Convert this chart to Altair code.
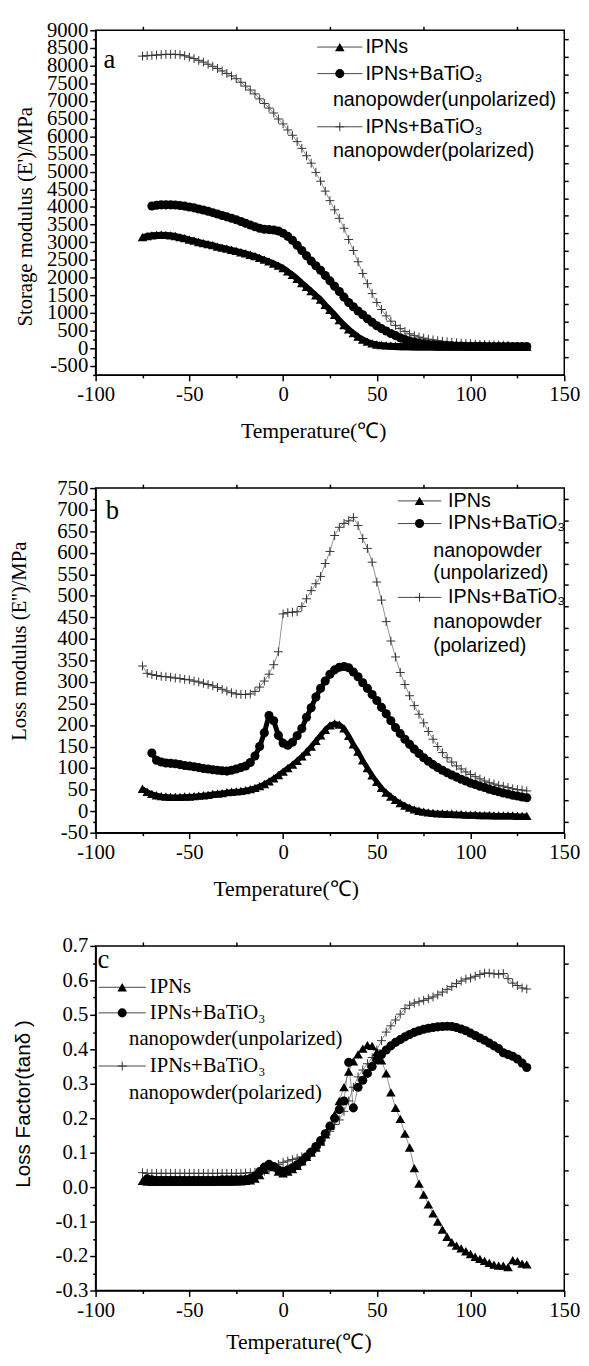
import altair as alt
import pandas as pd

# ---------------- data ----------------
T = [-75, -72.5, -70, -67.5, -65, -62.5, -60, -57.5, -55, -52.5,
     -50, -47.5, -45, -42.5, -40, -37.5, -35, -32.5, -30, -27.5,
     -25, -22.5, -20, -17.5, -15, -12.5, -10, -7.5, -5, -2.5,
     0, 2.5, 5, 7.5, 10, 12.5, 15, 17.5, 20, 22.5,
     25, 27.5, 30, 32.5, 35, 37.5, 40, 42.5, 45, 47.5,
     50, 52.5, 55, 57.5, 60, 62.5, 65, 67.5, 70, 72.5,
     75, 77.5, 80, 82.5, 85, 87.5, 90, 92.5, 95, 97.5,
     100, 102.5, 105, 107.5, 110, 112.5, 115, 117.5, 120, 122.5,
     125, 127.5, 130]

# panel a: storage modulus (MPa)
A_IPN = [3150, 3180, 3200, 3210, 3215, 3210, 3200, 3180, 3150, 3120,
         3080, 3050, 3010, 2980, 2950, 2920, 2880, 2850, 2820, 2790,
         2760, 2720, 2690, 2650, 2610, 2560, 2510, 2460, 2400, 2340,
         2270, 2180, 2080, 1970, 1850, 1740, 1620, 1500, 1380, 1230,
         1090, 950, 800, 660, 540, 430, 330, 250, 190, 140,
         110, 95, 85, 78, 72, 68, 65, 62, 60, 58,
         57, 56, 55, 54, 53, 52, 52, 51, 51, 50,
         50, 49, 49, 48, 48, 47, 47, 46, 46, 45,
         45, 44, 44]
A_UNP = [None, None, 4030, 4050, 4060, 4060, 4060, 4055, 4045, 4025,
         4000, 3975, 3945, 3915, 3880, 3840, 3800, 3760, 3720, 3680,
         3640, 3590, 3540, 3490, 3440, 3400, 3370, 3360, 3350, 3320,
         3260, 3170, 3060, 2920, 2770, 2620, 2470, 2340, 2210, 2060,
         1910, 1760, 1610, 1450, 1300, 1180, 1060, 950, 840, 740,
         640, 560, 490, 420, 360, 300, 250, 210, 180, 150,
         130, 112, 100, 90, 82, 76, 72, 68, 65, 62,
         60, 58, 57, 56, 55, 54, 54, 53, 53, 52,
         52, 51, 51]
A_POL = [8270, 8280, 8290, 8300, 8310, 8320, 8320, 8320, 8310, 8280,
         8240, 8200, 8150, 8100, 8040, 7980, 7920, 7850, 7780, 7710,
         7630, 7530, 7420, 7310, 7200, 7060, 6930, 6800, 6660, 6490,
         6350, 6180, 6030, 5850, 5660, 5450, 5240, 4980, 4730, 4450,
         4180, 3920, 3680, 3400, 3080, 2770, 2450, 2120, 1830, 1550,
         1300, 1100, 920, 770, 650, 560, 480, 410, 360, 320,
         290, 260, 240, 220, 200, 185, 170, 160, 150, 140,
         130, 122, 115, 110, 105, 100, 95, 92, 90, None,
         None, None, None]

# panel b: loss modulus (MPa)
B_IPN = [52, 45, 40, 37, 35, 34, 33, 33, 33, 34,
         34, 35, 36, 37, 38, 40, 41, 42, 44, 45,
         46, 47, 49, 51, 54, 58, 63, 69, 76, 84,
         92, 100, 108, 117, 127, 138, 150, 163, 176, 189,
         199, 204, 201, 192, 175, 155, 138, 118, 100, 83,
         68, 54, 43, 34, 26, 19, 13, 8, 4, 1,
         -1, -3, -4, -5, -5, -6, -6, -7, -7, -8,
         -8, -8, -9, -9, -9, -10, -10, -10, -10, -10,
         -11, -11, -11]
B_UNP = [None, None, 135, 118, 114, 112, 111, 110, 108, 106,
         105, 103, 101, 99, 98, 96, 95, 94, 93, 95,
         98, 101, 105, 113, 128, 150, 182, 222, 210, 176,
         158, 153, 160, 175, 192, 218, 240, 265, 285, 302,
         318, 328, 334, 336, 333, 323, 312, 298, 285, 271,
         257, 241, 226, 210, 194, 180, 167, 155, 144, 134,
         124, 116, 108, 101, 95, 89, 84, 79, 74, 70,
         65, 62, 58, 55, 51, 48, 45, 42, 40, 37,
         35, 33, 31]
B_POL = [337, 320, 317, 315, 313, 312, 311, 309, 308, 306,
         305, 302, 300, 297, 294, 291, 287, 283, 279, 275,
         272, 271, 271, 272, 278, 288, 302, 318, 340, 370,
         458, 461, 462, 463, 475, 493, 512, 528, 545, 575,
         603, 640, 659, 668, 674, 682, 663, 633, 610, 578,
         532, 490, 440, 395, 358, 322, 294, 268, 245, 225,
         205, 185, 167, 150, 136, 124, 114, 105, 98, 91,
         85, 80, 75, 70, 66, 63, 60, 58, 55, 52,
         50, 49, 47]

# panel c: loss factor (tan delta)
C_IPN = [0.018, 0.016, 0.015, 0.015, 0.015, 0.015, 0.015, 0.015, 0.015, 0.015,
         0.015, 0.015, 0.015, 0.015, 0.015, 0.015, 0.016, 0.016, 0.016, 0.016,
         0.017, 0.017, 0.018, 0.02, 0.025, 0.035, 0.05, 0.062, 0.058, 0.045,
         0.04, 0.045, 0.052, 0.062, 0.075, 0.088, 0.1, 0.115, 0.132, 0.153,
         0.178, 0.21, 0.25, 0.29, 0.335, 0.365, 0.385, 0.402, 0.412, 0.41,
         0.392, 0.368, 0.33, 0.275, 0.23, 0.198, 0.155, 0.115, 0.055, 0.01,
         -0.022, -0.05, -0.076, -0.1, -0.123, -0.144, -0.16, -0.17, -0.178, -0.186,
         -0.194, -0.202, -0.208, -0.214, -0.22, -0.225, -0.228, -0.228, -0.232, -0.212,
         -0.215, -0.222, -0.224]
C_UNP = [None, 0.024, 0.021, 0.02, 0.02, 0.02, 0.02, 0.02, 0.02, 0.02,
         0.02, 0.02, 0.02, 0.02, 0.02, 0.02, 0.02, 0.021, 0.021, 0.021,
         0.021, 0.021, 0.022, 0.025, 0.032, 0.045, 0.058, 0.066, 0.06, 0.05,
         0.046, 0.05, 0.056, 0.065, 0.075, 0.088, 0.102, 0.118, 0.135, 0.155,
         0.177, 0.2, 0.225, 0.25, 0.362, 0.23, 0.29, 0.31, 0.33, 0.35,
         0.37, 0.385, 0.398, 0.41, 0.42, 0.428, 0.436, 0.443, 0.449, 0.454,
         0.458, 0.461, 0.463, 0.465, 0.466, 0.467, 0.466, 0.463, 0.459, 0.454,
         0.447, 0.44, 0.433, 0.426, 0.418, 0.41, 0.402, 0.39, 0.385, 0.38,
         0.372, 0.36, 0.347]
C_POL = [0.042, 0.04, 0.04, 0.04, 0.04, 0.04, 0.04, 0.04, 0.04, 0.04,
         0.04, 0.04, 0.04, 0.04, 0.04, 0.04, 0.04, 0.04, 0.04, 0.04,
         0.04, 0.04, 0.041, 0.042, 0.043, 0.044, 0.046, 0.05, 0.058, 0.066,
         0.072, 0.076, 0.08, 0.084, 0.088, 0.094, 0.102, 0.112, 0.126, 0.145,
         0.162, 0.182, 0.195, 0.22, 0.25, 0.29, 0.32, 0.34, 0.358, 0.376,
         0.398, 0.425, 0.45, 0.468, 0.485, 0.502, 0.518, 0.528, 0.534, 0.538,
         0.542, 0.547, 0.552, 0.558, 0.566, 0.574, 0.582, 0.591, 0.598, 0.604,
         0.607, 0.612, 0.617, 0.621, 0.621, 0.619, 0.618, 0.62, 0.605, 0.592,
         0.585, 0.578, 0.575]

# text
X_TITLE = "Temperature(\u2103)"
Y_TITLES = ["Storage modulus (E')/MPa", "Loss modulus (E'')/MPa", "Loss Factor(tan\u03b4 )"]
LETTERS = ["a", "b", "c"]
LEG_A = ["IPNs", "IPNs+BaTiO\u2083", "nanopowder(unpolarized)", "IPNs+BaTiO\u2083", "nanopowder(polarized)"]
LEG_B = ["IPNs", "IPNs+BaTiO\u2083", "nanopowder", "(unpolarized)", "IPNs+BaTiO\u2083", "nanopowder", "(polarized)"]
LEG_C = ["IPNs", "IPNs+BaTiO\u2083", "nanopowder(unpolarized)", "IPNs+BaTiO\u2083", "nanopowder(polarized)"]

X_VALUES = [-100, -75, -50, -25, 0, 25, 50, 75, 100, 125, 150]
X_TOP = [-75, -25, 25, 75, 125]
YA_VALUES = list(range(-750, 9001, 250))
YA_RIGHT = list(range(-250, 9000, 500))
YB_VALUES = list(range(-50, 751, 25))
YB_RIGHT = list(range(-25, 750, 50))
YC_VALUES = [-0.3, -0.25, -0.2, -0.15, -0.1, -0.05, 0.0, 0.05, 0.1, 0.15, 0.2,
             0.25, 0.3, 0.35, 0.4, 0.45, 0.5, 0.55, 0.6, 0.65, 0.7]
YC_RIGHT = [-0.25, -0.15, -0.05, 0.05, 0.15, 0.25, 0.35, 0.45, 0.55, 0.65]

# ---------------- styling ----------------
W, H = 476, 350
SERIF = "Liberation Serif"
SANS = "Liberation Sans"
MINUS = "\u2212"
CROSS = "M-1,0L1,0M0,-1L0,1"
MARK = {
    "ipn": dict(shape="triangle-up", filled=True, color="black", size=95, opacity=1),
    "unp": dict(shape="circle", filled=True, color="black", size=85, opacity=1),
    "pol": dict(shape=CROSS, filled=False, color="#333333", strokeWidth=1, size=81, opacity=1),
}
ONE = pd.DataFrame({"k": [0]})


def long_df(ipn, unp, pol):
    rows = []
    for name, vals in (("pol", pol), ("unp", unp), ("ipn", ipn)):
        for t, v in zip(T, vals):
            if v is not None:
                rows.append({"T": t, "v": v, "s": name})
    return pd.DataFrame(rows)


def txt(s, x, y, font, size, baseline="middle", align="left"):
    return alt.Chart(ONE).mark_text(
        text=s, font=font, fontSize=size, align=align, baseline=baseline, color="black"
    ).encode(x=alt.value(x), y=alt.value(y))


def sym(key, xc, y, half):
    rule = alt.Chart(ONE).mark_rule(color="#444444", strokeWidth=1).encode(
        x=alt.value(xc - half), x2=alt.value(xc + half), y=alt.value(y))
    pt = alt.Chart(ONE).mark_point(**MARK[key]).encode(x=alt.value(xc), y=alt.value(y))
    return [rule, pt]


def panel(df, ydom, yvals, ymajor, yright, yfmt, ytitle, ytfont, ytx, yty, xtx, xty,
          letter, lx, ly, legend_layers, band):
    xs = alt.Scale(domain=[-100, 150], nice=False, zero=False)
    ys = alt.Scale(domain=ydom, nice=False, zero=False)
    xmajor = "datum.value % 50 === 0"
    x_axis = alt.Axis(
        orient="bottom", values=X_VALUES, format="d",
        labelExpr=f"{xmajor} ? replace(datum.label, '{MINUS}', '-') : ''",
        tickSize={"condition": {"test": xmajor, "value": 6}, "value": 3},
        tickWidth=1.5, tickColor="black", domainColor="black", domainWidth=1.5,
        labelFont=SERIF, labelFontSize=21, labelColor="black", labelPadding=3,
        labelOverlap=False, labelFlush=False, grid=False,
        title=X_TITLE, titleFont=SERIF, titleFontSize=22, titleFontWeight="normal",
        titleColor="black", titleX=xtx, titleY=xty, titleBaseline="middle", titleAlign="center")
    y_axis = alt.Axis(
        orient="left", values=yvals, format=yfmt,
        labelExpr=f"{ymajor} ? replace(datum.label, '{MINUS}', '-') : ''",
        tickSize={"condition": {"test": ymajor, "value": 6}, "value": 3},
        tickWidth=1.5, tickColor="black", domainColor="black", domainWidth=1.5,
        labelFont=SERIF, labelFontSize=21, labelColor="black", labelPadding=2,
        labelOverlap=False, grid=False,
        title=ytitle, titleFont=ytfont, titleFontSize=21, titleFontWeight="normal",
        titleColor="black", titleX=ytx, titleY=yty, titleAngle=270,
        titleBaseline="middle", titleAlign="center")
    top_axis = alt.Axis(orient="top", values=X_TOP, labels=False, domain=False,
                        tickSize=4, tickWidth=1.5, tickColor="black", grid=False)
    right_axis = alt.Axis(orient="right", values=yright, labels=False, domain=False,
                          tickSize=4, tickWidth=1.5, tickColor="black", grid=False)

    base = alt.Chart(df)
    lines = base.mark_line(color="#777777", strokeWidth=0.8).encode(
        x=alt.X("T:Q", scale=xs, axis=x_axis),
        y=alt.Y("v:Q", scale=ys, axis=y_axis),
        detail="s:N")
    layers = [lines]
    if band > 0:
        layers.append(base.transform_filter(alt.datum.s != "pol").mark_line(
            color="black", strokeWidth=band).encode(
            x=alt.X("T:Q", scale=xs, axis=None),
            y=alt.Y("v:Q", scale=ys, axis=None),
            detail="s:N"))
    pol = base.transform_filter(alt.datum.s == "pol").mark_point(**MARK["pol"]).encode(
        x=alt.X("T:Q", scale=xs, axis=top_axis, title=None),
        y=alt.Y("v:Q", scale=ys, axis=right_axis, title=None))
    unp = base.transform_filter(alt.datum.s == "unp").mark_point(**MARK["unp"]).encode(
        x=alt.X("T:Q", scale=xs, axis=None),
        y=alt.Y("v:Q", scale=ys, axis=None))
    ipn = base.transform_filter(alt.datum.s == "ipn").mark_point(**MARK["ipn"]).encode(
        x=alt.X("T:Q", scale=xs, axis=None),
        y=alt.Y("v:Q", scale=ys, axis=None))
    let = txt(letter, lx, ly, SERIF, 27, baseline="alphabetic", align="center")
    layers += [pol, unp, ipn, let] + legend_layers
    return alt.layer(*layers).resolve_axis(x="independent", y="independent").properties(
        width=W, height=H)


# ---------------- legends ----------------
leg_a = []
leg_a += sym("ipn", 248, 17, 23)
leg_a.append(txt(LEG_A[0], 274, 17, SANS, 20))
leg_a += sym("unp", 248, 44, 23)
leg_a.append(txt(LEG_A[1], 274, 44, SANS, 20))
leg_a.append(txt(LEG_A[2], 241, 71, SANS, 20))
leg_a += sym("pol", 248, 98, 23)
leg_a.append(txt(LEG_A[3], 274, 98, SANS, 20))
leg_a.append(txt(LEG_A[4], 241, 123, SANS, 20))

leg_b = []
leg_b += sym("ipn", 329, 13, 22)
leg_b.append(txt(LEG_B[0], 358, 13, SANS, 20))
leg_b += sym("unp", 329, 36, 22)
leg_b.append(txt(LEG_B[1], 358, 36, SANS, 20))
leg_b.append(txt(LEG_B[2], 343, 64, SANS, 20))
leg_b.append(txt(LEG_B[3], 343, 86, SANS, 20))
leg_b += sym("pol", 329, 111, 22)
leg_b.append(txt(LEG_B[4], 358, 111, SANS, 20))
leg_b.append(txt(LEG_B[5], 343, 136, SANS, 20))
leg_b.append(txt(LEG_B[6], 343, 160, SANS, 20))

leg_c = []
leg_c += sym("ipn", 27, 42, 24)
leg_c.append(txt(LEG_C[0], 55, 42, SERIF, 21))
leg_c += sym("unp", 27, 68, 24)
leg_c.append(txt(LEG_C[1], 55, 68, SERIF, 21))
leg_c.append(txt(LEG_C[2], 34, 95, SERIF, 21))
leg_c += sym("pol", 27, 122, 24)
leg_c.append(txt(LEG_C[3], 55, 122, SERIF, 21))
leg_c.append(txt(LEG_C[4], 34, 149, SERIF, 21))

pa = panel(long_df(A_IPN, A_UNP, A_POL), [-750, 9000], YA_VALUES, "datum.value % 500 === 0",
           YA_RIGHT, "d", Y_TITLES[0], SERIF, -71, 189, 221, 57, LETTERS[0], 14, 38, leg_a, 6)
pb = panel(long_df(B_IPN, B_UNP, B_POL), [-50, 750], YB_VALUES, "datum.value % 50 === 0",
           YB_RIGHT, "d", Y_TITLES[1], SERIF, -77, 155, 193, 57, LETTERS[1], 17, 31, leg_b, 5)
pc = panel(long_df(C_IPN, C_UNP, C_POL), [-0.3, 0.7], YC_VALUES,
           "abs(round(datum.value * 100)) % 10 === 0",
           YC_RIGHT, ".1f", Y_TITLES[2], SANS, -73, 160, 206, 52, LETTERS[2], 8, 22, leg_c, 0)

chart = alt.vconcat(pa, pb, pc, spacing=34).properties(
    padding={"left": 0, "top": 0, "right": 0, "bottom": 0},
    background="white",
).configure_view(
    stroke="black", strokeWidth=1.5
).configure_axis(
    labelFont=SERIF, labelFontSize=21, labelColor="black"
)

chart.save("out.html", embed_options={"renderer": "svg", "actions": False})
